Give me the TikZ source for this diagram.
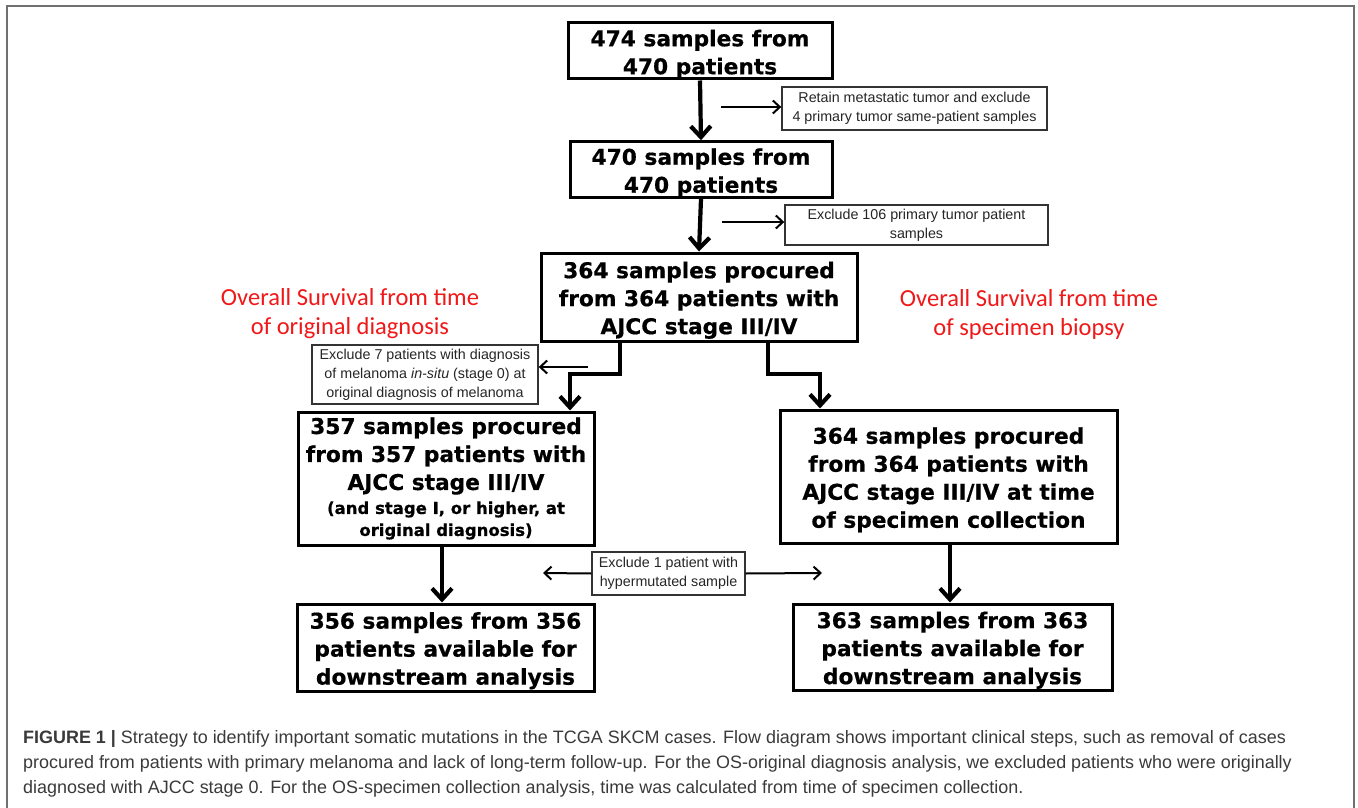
\documentclass[tikz,border=0pt]{standalone}
\usepackage{fontspec}
\setmainfont{Liberation Sans}
\newfontfamily\heavy{DejaVu Sans}[BoldFeatures={FakeBold=0.6}]
\newfontfamily\calib{Carlito}
\usetikzlibrary{arrows.meta,calc}
\definecolor{capgray}{HTML}{3A3A3A}
\definecolor{framegray}{HTML}{707070}
\definecolor{titlered}{HTML}{F01818}
\newcommand{\topstrut}{\rule{0pt}{23pt}}
\tikzset{
  bigbox/.style={draw=black, line width=3pt, inner sep=0pt, align=center,
    font=\heavy\bfseries\fontsize{21.7}{28}\selectfont},
  notebox/.style={draw=black!80, line width=1.4pt, inner sep=0pt, align=center,
    text=black!85, font=\fontsize{14.3}{19}\selectfont},
  bigarrow/.style={line width=4.2pt, -{Straight Barb[length=11pt,width=20pt]}},
  smallarrow/.style={line width=2pt, -{Straight Barb[length=7pt,width=13pt]}},
  redtitle/.style={text=titlered, align=center, inner sep=0pt,
    font=\calib\fontsize{24.5}{29}\selectfont},
}
\begin{document}
\begin{tikzpicture}[x=1pt,y=-1pt]
\useasboundingbox (0,0) rectangle (1358,808);
\fill[white] (0,0) rectangle (1358,808);
\draw[framegray, line width=2pt] (7,810) -- (7,6) -- (1354,6) -- (1354,810);

% main boxes
\node[bigbox, minimum width=264pt, minimum height=56pt] (b1) at (700,51) {\topstrut474 samples from\\470 patients};
\node[bigbox, minimum width=262pt, minimum height=55pt] (b2) at (701,169.5) {\topstrut470 samples from\\470 patients};
\node[bigbox, minimum width=316pt, minimum height=88pt] (b3) at (699,297) {\topstrut364 samples procured\\from 364 patients with\\AJCC stage III/IV};
\node[bigbox, minimum width=296pt, minimum height=133pt] (b4) at (446,478.5)
  {357 samples procured\\from 357 patients with\\AJCC stage III/IV\\[-4pt]
   {\fontsize{16.5}{21}\selectfont (and stage I, or higher, at}\\[-6pt]
   {\fontsize{16.5}{21}\selectfont original diagnosis)}};
\node[bigbox, minimum width=297pt, minimum height=87pt] (b5) at (445.5,647.5) {\topstrut356 samples from 356\\patients available for\\downstream analysis};
\node[bigbox, minimum width=337pt, minimum height=133pt] (b6) at (948.5,476.5) {\topstrut364 samples procured\\from 364 patients with\\AJCC stage III/IV at time\\of specimen collection};
\node[bigbox, minimum width=319pt, minimum height=86pt] (b7) at (952.5,647) {\topstrut363 samples from 363\\patients available for\\downstream analysis};

% notes
\node[notebox, minimum width=265pt, minimum height=43pt] (n1) at (914.5,108.5) {Retain metastatic tumor and exclude\\4 primary tumor same-patient samples};
\node[notebox, minimum width=263pt, minimum height=40pt] (n2) at (916.5,225) {Exclude 106 primary tumor patient\\samples};
\node[notebox, minimum width=226pt, minimum height=59pt] (n3) at (425,374.5) {Exclude 7 patients with diagnosis\\of melanoma \textit{in-situ} (stage 0) at\\original diagnosis of melanoma};
\node[notebox, minimum width=153pt, minimum height=43pt] (n4) at (668.5,573.5) {Exclude 1 patient with\\hypermutated sample};

% red titles
\node[redtitle] (t1) at (350,314) {Overall Survival from time\\of original diagnosis};
\node[redtitle] (t2) at (1029,314) {Overall Survival from time\\of specimen biopsy};

% main arrows
\draw[bigarrow] (b1.south) -- (b2.north);
\draw[bigarrow] (b2.south) -- (b3.north);
\coordinate (e1) at (620,374);
\coordinate (e2) at (570,374);
\coordinate (e3) at (768,374);
\coordinate (e4) at (820,374);
\draw[bigarrow] (b3.south -| e1) -- (e1) -- (e2) -- (b4.north -| e2);
\draw[bigarrow] (b3.south -| e3) -- (e3) -- (e4) -- (b6.north -| e4);
\draw[bigarrow] (b4.south -| 442,0) -- (b5.north -| 442,0);
\draw[bigarrow] (b6.south -| 950,0) -- (b7.north -| 950,0);

% small arrows
\coordinate (s1) at (721,107);
\coordinate (s2) at (722,222);
\coordinate (s3) at (588,367);
\coordinate (s4) at (543,573);
\coordinate (s5) at (822,573);
\draw[smallarrow] (s1) -- (n1.west |- s1);
\draw[smallarrow] (s2) -- (n2.west |- s2);
\draw[smallarrow] (s3) -- (n3.east |- s3);
\draw[smallarrow] (n4.west) -- (s4);
\draw[smallarrow] (n4.east) -- (s5);

% caption
\node[anchor=base west, align=left, inner sep=0pt, text=capgray,
  font=\fontsize{17.95}{25}\selectfont] (cap) at (23,793)
  {{\bfseries FIGURE 1 |} Strategy to identify important somatic mutations in the TCGA SKCM cases. Flow diagram shows important clinical steps, such as removal of cases\\
   procured from patients with primary melanoma and lack of long-term follow-up. For the OS-original diagnosis analysis, we excluded patients who were originally\\
   diagnosed with AJCC stage 0. For the OS-specimen collection analysis, time was calculated from time of specimen collection.};
\end{tikzpicture}
\end{document}
